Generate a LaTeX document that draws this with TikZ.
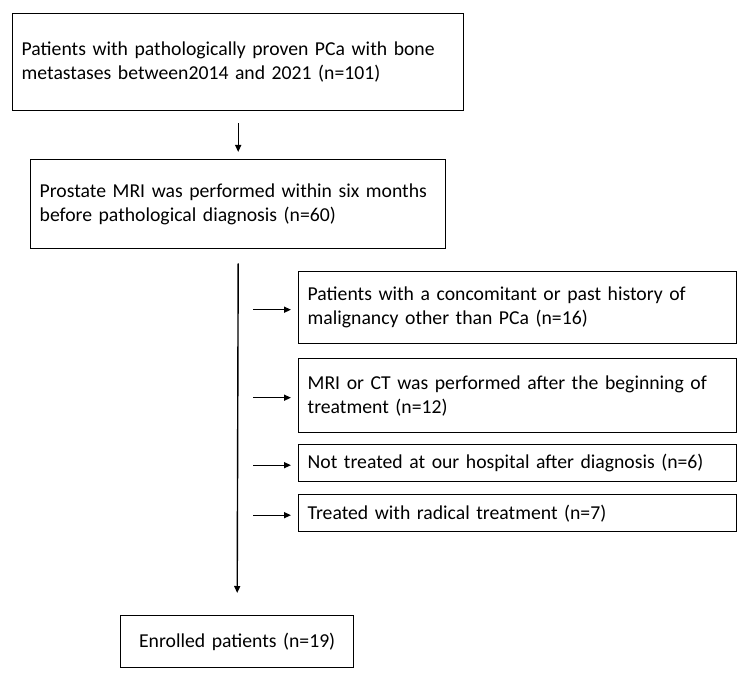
\documentclass[tikz,border=0pt]{standalone}
\usepackage{fontspec}
\setmainfont{Carlito}
\usetikzlibrary{arrows.meta}

\tikzset{
  boite/.style={draw, line width=1.4pt, anchor=north west, align=left,
    inner xsep=9pt, inner ysep=0pt, font=\fontsize{19.7}{24}\selectfont},
  fleche/.style={line width=1.4pt, -{Triangle[length=7pt,width=6pt]}}
}

\begin{document}
\begin{tikzpicture}[x=1pt, y=-1pt]

% Cadre de la page
\useasboundingbox (0,0) rectangle (750,687);

% Population initiale
\node[boite, text width=433pt, minimum height=97pt] (pop) at (12,13)
  {Patients with pathologically proven PCa with bone\\metastases between2014 and 2021 (n=101)};

% IRM prostatique
\node[boite, text width=397pt, minimum height=89pt] (irm) at (30,159)
  {Prostate MRI was performed within six months\\before pathological diagnosis (n=60)};

% Criteres d'exclusion
\node[boite, text width=420pt, minimum height=72pt] (excl1) at (298,271)
  {Patients with a concomitant or past history of\\malignancy other than PCa (n=16)};
\node[boite, text width=420pt, minimum height=74pt] (excl2) at (298,358)
  {MRI or CT was performed after the beginning of\\treatment (n=12)};
\node[boite, text width=420pt, minimum height=37pt] (excl3) at (298,444)
  {Not treated at our hospital after diagnosis (n=6)};
\node[boite, text width=420pt, minimum height=37pt] (excl4) at (298,494)
  {Treated with radical treatment (n=7)};

% Patients inclus
\node[boite, align=center, text width=215pt, minimum height=52pt] (inclus) at (120,615)
  {Enrolled patients (n=19)};

% Fleche entre les deux premieres boites
\draw[fleche] ([yshift=-12pt]pop.south) -- ([yshift=7pt]irm.north);

% Ligne verticale principale
\draw[fleche] ([yshift=-14pt]irm.south) -- ([yshift=22pt]inclus.north);

% Fleches vers les exclusions
\foreach \n in {excl1, excl2, excl3, excl4}
  \draw[fleche] ([xshift=-45pt, yshift=-2pt]\n.west) -- ([xshift=-7pt, yshift=-2pt]\n.west);

\end{tikzpicture}
\end{document}
